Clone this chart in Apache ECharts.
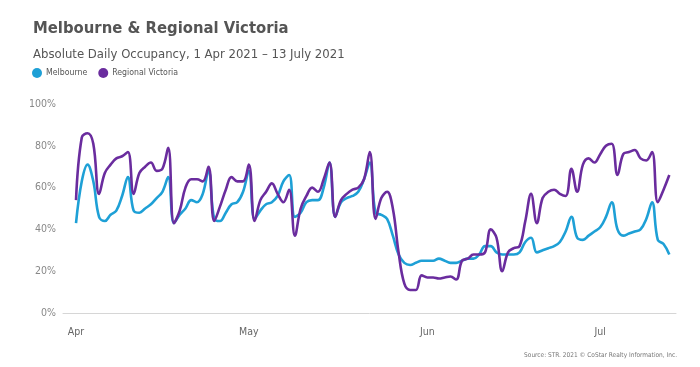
<!DOCTYPE html>
<html>
<head>
<meta charset="utf-8">
<script src="https://cdn.jsdelivr.net/npm/echarts@6/dist/echarts.min.js"></script>
<style>
  html, body { margin: 0; padding: 0; background: #fff; }
  #chart { width: 700px; height: 367px; }
</style>
</head>
<body>
<div id="chart"></div>
<script>
// Day index 0 = 1 Apr 2021 ... 103 = 13 Jul 2021
var monthTickDays = [0, 30, 61, 91];
var monthLabels = ['Apr', 'May', 'Jun', 'Jul'];
var yTicks = [0, 20, 40, 60, 80, 100];

var melbourne = [
  43, 63, 71, 63, 46, 44, 47, 49, 56, 65,
  49, 48, 50, 52, 55, 58, 65, 43, 47, 50,
  54, 53, 57, 68, 45, 44, 48, 52, 53, 58,
  68, 45, 49, 52, 53, 56, 63, 66, 46, 48,
  53, 54, 54, 60, 72, 46, 53, 55, 56, 58,
  64, 72, 48, 47, 45, 37, 28, 24, 23, 24,
  25, 25, 25, 26, 25, 24, 24, 25, 26, 26,
  28, 32, 32, 29, 28, 28, 28, 29, 34, 36,
  29, 30, 31, 32, 34, 39, 46, 36, 35, 37,
  39, 41, 46, 53, 40, 37, 38, 39, 40, 45,
  53, 35, 33, 28
];

var regionalVictoria = [
  54, 84, 86, 81, 57, 67, 71, 74, 75, 77,
  57, 67, 70, 72, 68, 69, 79, 43, 49, 60,
  64, 64, 63, 70, 44, 51, 59, 65, 63, 63,
  71, 44, 54, 58, 62, 57, 53, 59, 37, 50,
  56, 60, 58, 64, 72, 46, 54, 57, 59, 60,
  64, 77, 45, 55, 58, 50, 29, 14, 11, 11,
  18, 17, 17, 16.5, 17, 17.5, 16, 25, 26, 28,
  28, 29, 40, 36, 20, 29, 31, 32, 44, 57,
  43, 55, 58, 59, 57, 56, 69, 58, 71, 74,
  72, 76, 80, 81, 66, 76, 77, 78, 74, 73,
  77, 53, 59, 66
];

function pairs(arr) { return arr.map(function (v, i) { return [i, v]; }); }

var FONT = '"Liberation Sans Narrow", "DejaVu Sans Condensed", "Roboto", sans-serif';

var chart = echarts.init(document.getElementById('chart'), null, { renderer: 'canvas' });
chart.setOption({
  animation: false,
  backgroundColor: '#fff',
  textStyle: { fontFamily: FONT },
  title: {
    text: 'Melbourne & Regional Victoria',
    subtext: 'Absolute Daily Occupancy, 1 Apr 2021 \u2013 13 July 2021',
    left: 28,
    top: 15,
    itemGap: 11,
    textStyle: { fontFamily: FONT, fontSize: 16.5, fontWeight: 'bold', color: '#555' },
    subtextStyle: { fontFamily: FONT, fontSize: 13, color: '#555' }
  },
  legend: {
    left: 27,
    top: 63,
    icon: 'circle',
    itemWidth: 10,
    itemHeight: 10,
    itemGap: 11,
    textStyle: { fontFamily: FONT, fontSize: 8.7, color: '#555', padding: [0, 0, 0, -1] },
    data: ['Melbourne', 'Regional Victoria']
  },
  grid: { left: 63, right: 24, top: 104, bottom: 54, containLabel: false },
  xAxis: {
    type: 'value',
    min: -2.26,
    max: 104.16,
    axisLine: { show: true, lineStyle: { color: '#d6d6d6', width: 1 } },
    axisTick: { show: false },
    splitLine: { show: false },
    axisLabel: {
      customValues: monthTickDays,
      margin: 14,
      fontSize: 10.5,
      color: '#666',
      fontFamily: FONT,
      formatter: function (v) {
        var i = monthTickDays.indexOf(v);
        return i >= 0 ? monthLabels[i] : '';
      }
    }
  },
  yAxis: {
    type: 'value',
    min: 0,
    max: 100,
    interval: 20,
    axisLine: { show: false },
    axisTick: { show: false },
    splitLine: { show: false },
    axisLabel: {
      margin: 7,
      fontSize: 10.5,
      color: '#888',
      fontFamily: FONT,
      formatter: function (v) { return yTicks.indexOf(v) >= 0 ? v + '%' : ''; }
    }
  },
  graphic: [{
    type: 'text',
    right: 23,
    bottom: 8,
    style: {
      text: 'Source: STR. 2021 \u00a9 CoStar Realty Information, Inc.',
      fontSize: 6.5,
      fill: '#777',
      fontFamily: FONT
    }
  }],
  series: [
    {
      name: 'Melbourne',
      type: 'line',
      data: pairs(melbourne),
      smooth: 0.4,
      showSymbol: false,
      color: '#1ea0d6',
      lineStyle: { width: 2.6, color: '#1ea0d6' }
    },
    {
      name: 'Regional Victoria',
      type: 'line',
      data: pairs(regionalVictoria),
      smooth: 0.4,
      showSymbol: false,
      color: '#6a2c9e',
      lineStyle: { width: 2.6, color: '#6a2c9e' }
    }
  ]
});
</script>
</body>
</html>
